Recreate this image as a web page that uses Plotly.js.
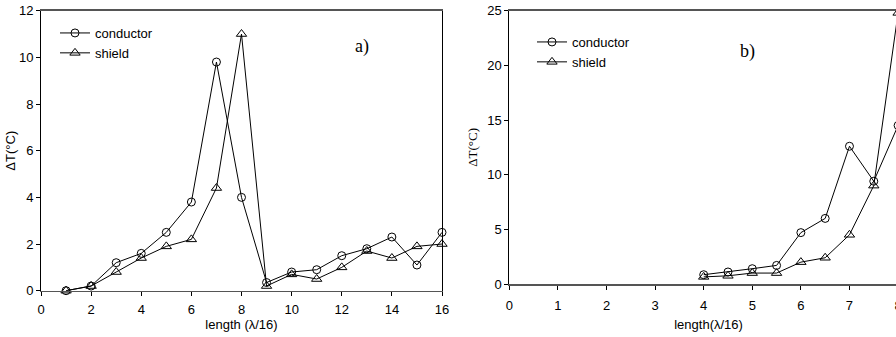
<!DOCTYPE html>
<html>
<head>
<meta charset="utf-8">
<script src="https://cdn.plot.ly/plotly-3.0.1.min.js"></script>
<style>
html,body{margin:0;padding:0;overflow:hidden;background:#fff;}
#chart{width:910px;height:337px;}
</style>
</head>
<body>
<div id="chart"></div>
<script>
// Panel a)
const lengthA = [1, 2, 3, 4, 5, 6, 7, 8, 9, 10, 11, 12, 13, 14, 15, 16];
const conductorA = [0.0, 0.2, 1.2, 1.6, 2.5, 3.8, 9.8, 4.0, 0.35, 0.8, 0.9, 1.5, 1.8, 2.3, 1.1, 2.5];
const shieldA = [0.0, 0.2, 0.8, 1.4, 1.9, 2.2, 4.4, 11.0, 0.2, 0.7, 0.5, 1.0, 1.7, 1.4, 1.9, 2.0];
// Panel b)
const lengthB = [4, 4.5, 5, 5.5, 6, 6.5, 7, 7.5, 8];
const conductorB = [0.85, 1.1, 1.4, 1.7, 4.7, 6.0, 12.6, 9.4, 14.5];
const shieldB = [0.65, 0.75, 1.0, 1.0, 2.0, 2.4, 4.5, 9.0, 24.8];

const seriesNames = ['conductor', 'shield'];
const ticksAX = [0, 2, 4, 6, 8, 10, 12, 14, 16];
const ticksAY = [0, 2, 4, 6, 8, 10, 12];
const ticksBX = [0, 1, 2, 3, 4, 5, 6, 7, 8];
const ticksBY = [0, 5, 10, 15, 20, 25];

const SANS = 'Liberation Sans, Arial, sans-serif';
const SERIF = 'Liberation Serif, Times New Roman, serif';
const W = 910, H = 337;

function tr(x, y, name, sym, xa, ya, leg) {
  return {
    x: x, y: y, name: name, type: 'scatter', mode: 'lines+markers',
    xaxis: xa, yaxis: ya, legend: leg, cliponaxis: false,
    line: {color: '#000', width: 1},
    marker: {symbol: sym, size: sym === 'circle-open' ? 8 : 9, color: '#000', line: {color: '#000', width: 1}}
  };
}

const data = [
  tr(lengthA, conductorA, seriesNames[0], 'circle-open', 'x', 'y', 'legend'),
  tr(lengthA, shieldA, seriesNames[1], 'triangle-up-open', 'x', 'y', 'legend'),
  tr(lengthB, conductorB, seriesNames[0], 'circle-open', 'x2', 'y2', 'legend2'),
  tr(lengthB, shieldB, seriesNames[1], 'triangle-up-open', 'x2', 'y2', 'legend2')
];

const axBase = {
  showgrid: false, zeroline: false, showline: true, mirror: true,
  ticks: 'outside', ticklen: 4, tickwidth: 1, tickcolor: '#000',
  tickfont: {family: SANS, size: 13, color: '#000'}
};

const layout = {
  width: W, height: H,
  margin: {l: 0, r: 0, t: 0, b: 0},
  paper_bgcolor: '#fff', plot_bgcolor: '#fff',
  showlegend: true,
  xaxis: Object.assign({}, axBase, {
    domain: [41 / W, 442 / W], range: [0, 16], tickvals: ticksAX,
    linecolor: '#555', linewidth: 1.5, anchor: 'y', ticklabelstandoff: 2,
    title: {text: 'length (λ/16)', font: {family: SANS, size: 13, color: '#000'}, standoff: 3}
  }),
  yaxis: Object.assign({}, axBase, {
    domain: [(H - 290.7) / H, (H - 10.7) / H], range: [0, 12], tickvals: ticksAY,
    linecolor: '#000', linewidth: 1, anchor: 'x',
    title: {text: 'ΔT(°C)', font: {family: SANS, size: 13, color: '#000'}, standoff: 0}
  }),
  xaxis2: Object.assign({}, axBase, {
    domain: [509.3 / W, 907.8 / W], range: [0, 8.2], tickvals: ticksBX,
    linecolor: '#555', linewidth: 1.5, anchor: 'y2', ticklabelstandoff: 5,
    title: {text: 'length(λ/16)', font: {family: SANS, size: 13, color: '#000'}, standoff: 8}
  }),
  yaxis2: Object.assign({}, axBase, {
    domain: [(H - 284) / H, (H - 10.7) / H], range: [0, 25], tickvals: ticksBY,
    linecolor: '#000', linewidth: 1, anchor: 'x2',
    title: {text: 'ΔT(°C)', font: {family: SERIF, size: 13, color: '#000'}, standoff: 6}
  }),
  legend: {
    x: 55 / W, y: (H - 18) / H, xanchor: 'left', yanchor: 'top',
    bgcolor: 'rgba(0,0,0,0)', borderwidth: 0,
    font: {family: SANS, size: 13, color: '#000'}, tracegroupgap: 0
  },
  legend2: {
    x: 532 / W, y: (H - 27) / H, xanchor: 'left', yanchor: 'top',
    bgcolor: 'rgba(0,0,0,0)', borderwidth: 0,
    font: {family: SANS, size: 13, color: '#000'}, tracegroupgap: 0
  },
  annotations: [
    {text: 'a)', xref: 'x', yref: 'y', x: 12.8, y: 10.45, showarrow: false,
     font: {family: SERIF, size: 18, color: '#000'}},
    {text: 'b)', xref: 'x2', yref: 'y2', x: 4.91, y: 21.3, showarrow: false,
     font: {family: SERIF, size: 18, color: '#000'}}
  ]
};

Plotly.newPlot('chart', data, layout, {staticPlot: true, displayModeBar: false});
</script>
</body>
</html>
